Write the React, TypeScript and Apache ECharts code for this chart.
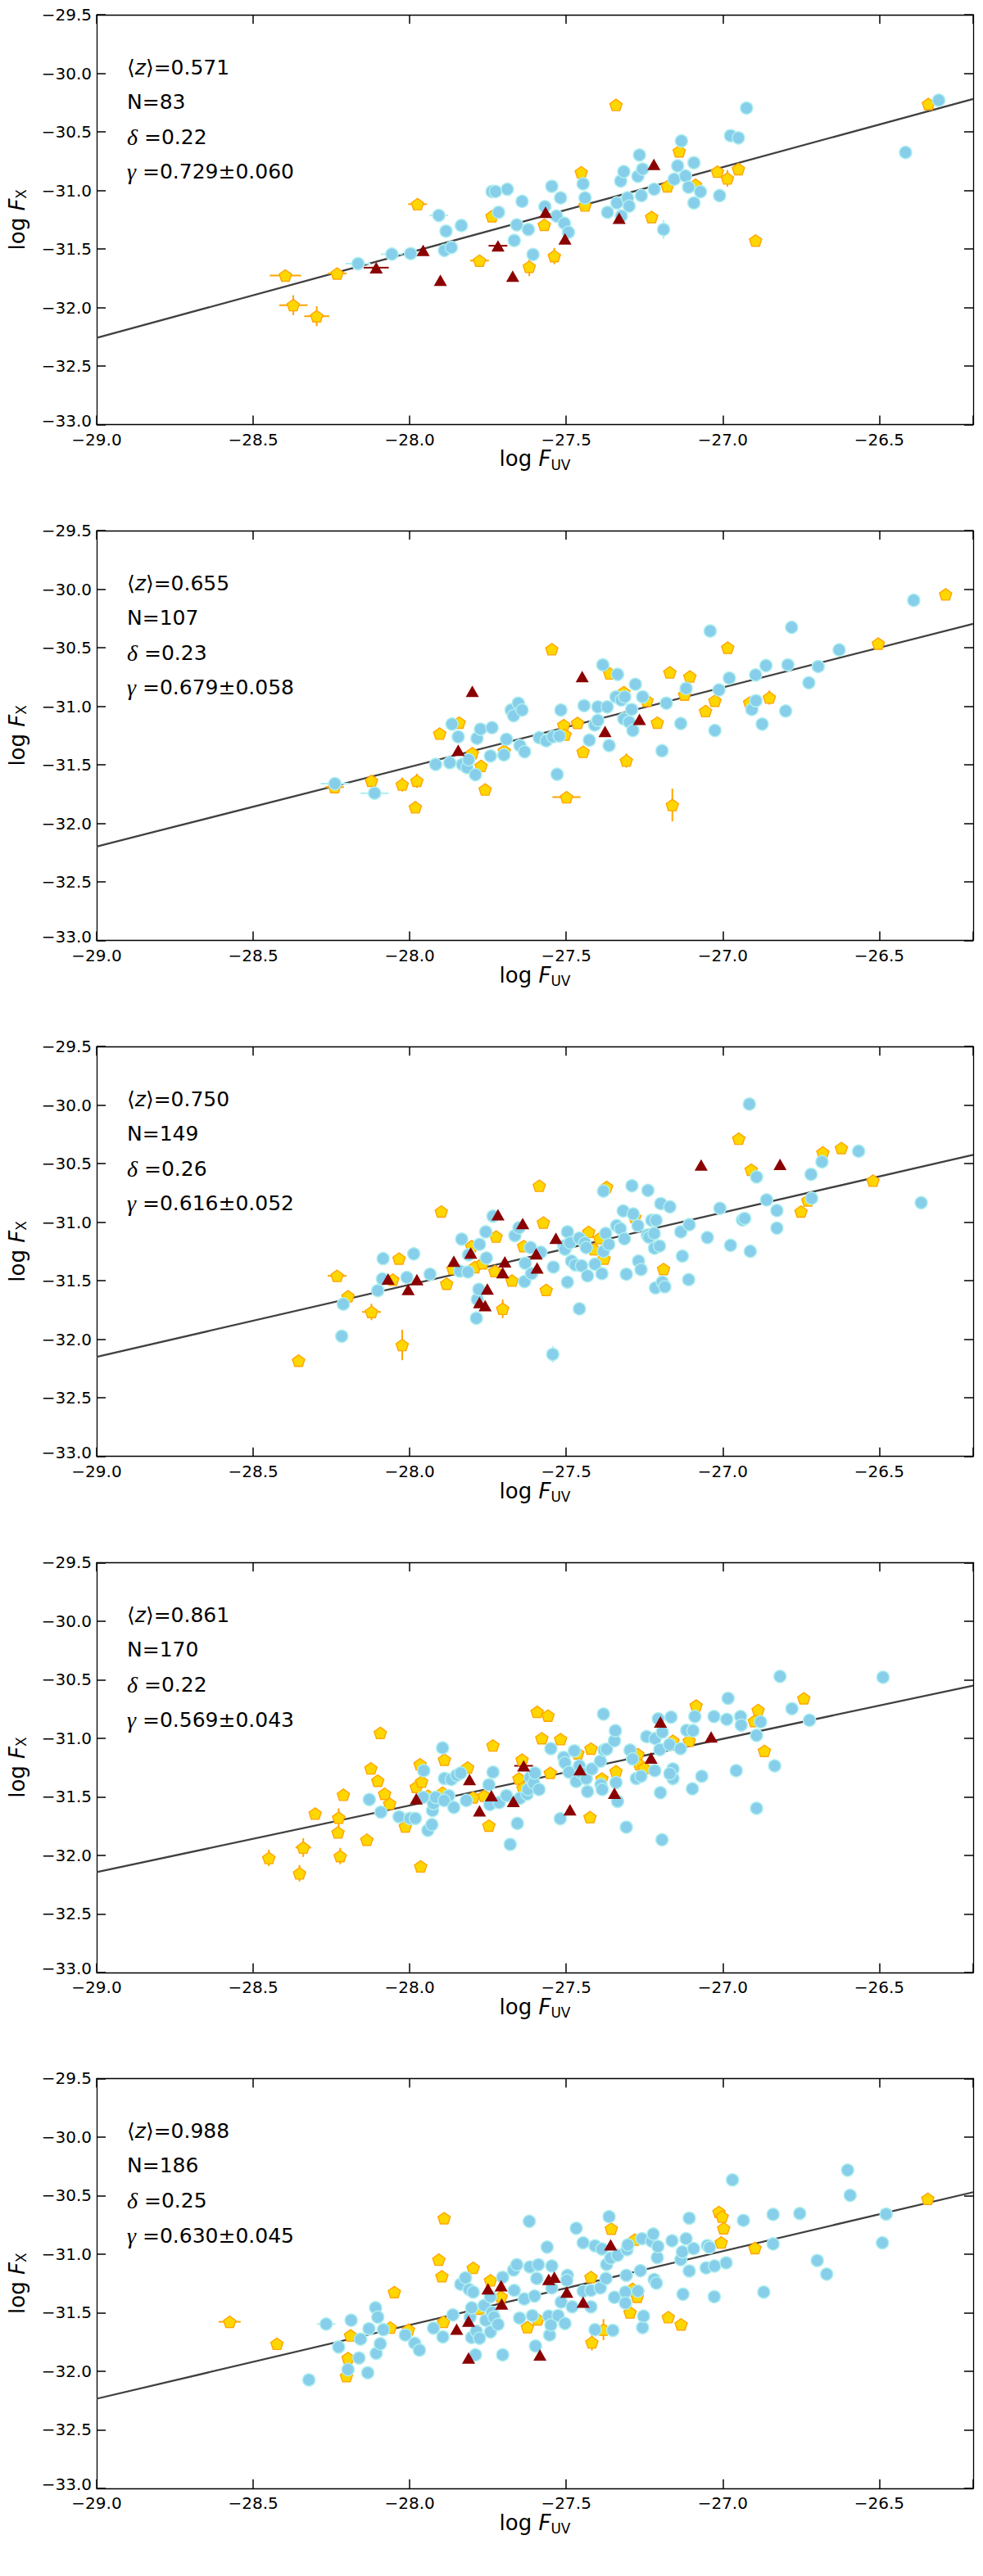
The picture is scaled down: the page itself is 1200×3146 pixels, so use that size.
import { useEffect, useRef } from 'react'
import * as echarts from 'echarts'

// panel statistics
const meanZ = ['0.571', '0.655', '0.750', '0.861', '0.988']
const counts = [83, 107, 149, 170, 186]
const deltas = ['0.22', '0.23', '0.26', '0.22', '0.25']
const gammas = ['0.729', '0.679', '0.616', '0.569', '0.630']
const gammaErrs = ['0.060', '0.058', '0.052', '0.043', '0.045']
// fit value at log F_UV = -29
const fitStart = [-32.26, -32.197, -32.149, -32.144, -32.235]

const X_MIN = -29
const X_MAX = -26.2
const Y_MIN = -33
const Y_MAX = -29.5

// panel 1
const blue1 = [[-28.165,-31.626],[-28.057,-31.545],[-27.997,-31.54],[-27.907,-31.214],[-27.884,-31.348],[-27.889,-31.513],[-27.867,-31.487],[-27.835,-31.3],[-27.737,-31.01],[-27.726,-31.01],[-27.716,-31.187],[-27.688,-30.99],[-27.641,-31.094],[-27.658,-31.294],[-27.666,-31.428],[-27.621,-31.334],[-27.606,-31.548],[-27.568,-31.139],[-27.546,-30.965],[-27.531,-31.219],[-27.518,-31.064],[-27.506,-31.281],[-27.493,-31.358],[-27.446,-30.944],[-27.44,-31.064],[-27.368,-31.187],[-27.338,-31.107],[-27.326,-30.92],[-27.316,-30.84],[-27.324,-31.219],[-27.304,-31.064],[-27.299,-31.134],[-27.271,-30.88],[-27.266,-30.698],[-27.256,-30.818],[-27.26,-31.045],[-27.219,-30.99],[-27.189,-31.334],[-27.155,-30.905],[-27.144,-30.791],[-27.132,-30.578],[-27.119,-30.877],[-27.109,-30.973],[-27.092,-30.764],[-27.092,-31.107],[-27.071,-31.011],[-27.01,-31.045],[-26.975,-30.533],[-26.95,-30.551],[-26.924,-30.297],[-26.416,-30.676],[-26.31,-30.23]]
const gold1 = [[-28.397,-31.727],[-28.372,-31.98],[-28.297,-32.075],[-28.232,-31.71],[-27.975,-31.118],[-27.777,-31.6],[-27.737,-31.22],[-27.452,-30.845],[-27.57,-31.294],[-27.618,-31.652],[-27.538,-31.561],[-27.44,-31.128],[-27.341,-30.27],[-27.227,-31.227],[-27.177,-30.965],[-27.139,-30.666],[-27.087,-30.952],[-27.017,-30.84],[-26.985,-30.898],[-26.95,-30.818],[-26.895,-31.428],[-26.343,-30.262]]
const red1 = [[-28.107,-31.66],[-27.957,-31.513],[-27.902,-31.767],[-27.718,-31.473],[-27.671,-31.733],[-27.566,-31.187],[-27.504,-31.414],[-27.331,-31.238],[-27.22,-30.778]]
const err1 = [[-28.397,-31.727,0.05,0.015,0],[-28.372,-31.98,0.045,0.085,0],[-28.297,-32.075,0.04,0.085,0],[-28.232,-31.71,0.03,0.02,0],[-27.975,-31.118,0.03,0,0],[-27.618,-31.652,0,0.08,0],[-27.538,-31.561,0,0.07,0],[-26.985,-30.898,0,0.07,0],[-27.777,-31.6,0.03,0,0],[-28.165,-31.626,0.04,0,1],[-28.057,-31.545,0.035,0,1],[-27.907,-31.214,0.03,0,1],[-27.189,-31.334,0,0.08,1],[-28.107,-31.66,0.04,0.01,2],[-27.718,-31.473,0.03,0,2]]

// panel 2
const blue2 = [[-28.239,-31.661],[-28.112,-31.742],[-27.917,-31.496],[-27.872,-31.482],[-27.865,-31.152],[-27.845,-31.26],[-27.832,-31.496],[-27.817,-31.523],[-27.812,-31.456],[-27.79,-31.584],[-27.785,-31.273],[-27.774,-31.195],[-27.742,-31.424],[-27.737,-31.182],[-27.699,-31.415],[-27.691,-31.281],[-27.676,-31.032],[-27.668,-31.08],[-27.653,-30.973],[-27.641,-31.032],[-27.648,-31.335],[-27.633,-31.388],[-27.586,-31.268],[-27.564,-31.294],[-27.543,-31.26],[-27.522,-31.254],[-27.529,-31.581],[-27.517,-31.032],[-27.443,-30.994],[-27.426,-31.289],[-27.409,-31.16],[-27.399,-31.005],[-27.399,-31.12],[-27.383,-30.646],[-27.369,-31.005],[-27.363,-31.335],[-27.341,-30.919],[-27.336,-30.727],[-27.324,-30.946],[-27.316,-31.107],[-27.313,-30.919],[-27.299,-31.134],[-27.291,-31.027],[-27.287,-31.206],[-27.279,-30.812],[-27.256,-30.919],[-27.194,-31.38],[-27.18,-30.973],[-27.134,-31.147],[-27.117,-30.847],[-27.04,-30.357],[-27.025,-31.206],[-27.012,-30.86],[-26.979,-30.759],[-26.907,-31.027],[-26.895,-30.732],[-26.894,-30.952],[-26.874,-31.152],[-26.862,-30.652],[-26.799,-31.04],[-26.792,-30.646],[-26.78,-30.325],[-26.725,-30.799],[-26.695,-30.66],[-26.628,-30.518],[-26.39,-30.095]]
const gold2 = [[-28.24,-31.69],[-28.122,-31.636],[-28.024,-31.668],[-27.977,-31.636],[-27.982,-31.862],[-27.904,-31.233],[-27.842,-31.139],[-27.8,-31.4],[-27.772,-31.509],[-27.759,-31.71],[-27.546,-30.512],[-27.698,-31.38],[-27.508,-31.16],[-27.504,-31.241],[-27.464,-31.142],[-27.446,-31.388],[-27.499,-31.776],[-27.361,-30.719],[-27.316,-30.879],[-27.308,-31.463],[-27.242,-30.952],[-27.209,-31.139],[-27.169,-30.71],[-27.161,-31.843],[-27.122,-30.9],[-27.105,-30.745],[-27.055,-31.04],[-27.025,-30.952],[-26.984,-30.499],[-26.914,-30.968],[-26.851,-30.925],[-26.503,-30.464],[-26.288,-30.044]]
const red2 = [[-27.845,-31.375],[-27.8,-30.871],[-27.449,-30.745],[-27.376,-31.214],[-27.266,-31.112]]
const err2 = [[-28.239,-31.661,0.045,0,1],[-28.112,-31.742,0.045,0.03,1],[-27.499,-31.776,0.045,0,0],[-27.161,-31.843,0,0.14,0],[-27.308,-31.463,0,0.06,0],[-28.024,-31.668,0,0.06,0],[-27.977,-31.636,0,0.06,0],[-26.851,-30.925,0,0.06,0],[-28.122,-31.636,0.02,0.03,0],[-28.24,-31.69,0.03,0,0]]

// panel 3
const blue3 = [[-28.212,-31.699],[-28.217,-31.973],[-28.102,-31.584],[-28.087,-31.484],[-28.085,-31.31],[-28.009,-31.471],[-27.987,-31.27],[-27.935,-31.444],[-27.84,-31.417],[-27.834,-31.144],[-27.814,-31.425],[-27.812,-31.278],[-27.787,-31.82],[-27.784,-31.659],[-27.779,-31.573],[-27.777,-31.189],[-27.757,-31.082],[-27.755,-31.305],[-27.734,-30.948],[-27.664,-31.114],[-27.651,-31.047],[-27.631,-31.35],[-27.633,-31.506],[-27.614,-31.216],[-27.611,-31.439],[-27.581,-31.256],[-27.541,-31.383],[-27.543,-32.128],[-27.508,-31.203],[-27.504,-31.23],[-27.496,-31.082],[-27.496,-31.511],[-27.488,-31.176],[-27.483,-31.332],[-27.471,-31.364],[-27.458,-31.136],[-27.458,-31.739],[-27.451,-31.372],[-27.441,-31.176],[-27.436,-31.216],[-27.432,-31.458],[-27.408,-31.358],[-27.386,-31.439],[-27.381,-30.734],[-27.381,-31.248],[-27.374,-31.096],[-27.364,-31.189],[-27.339,-31.029],[-27.327,-31.055],[-27.318,-30.903],[-27.314,-31.141],[-27.308,-31.444],[-27.29,-30.688],[-27.286,-30.929],[-27.271,-31.029],[-27.269,-31.332],[-27.261,-31.404],[-27.239,-30.728],[-27.241,-31.109],[-27.236,-31.128],[-27.227,-30.983],[-27.219,-31.096],[-27.218,-31.222],[-27.213,-30.983],[-27.215,-31.56],[-27.202,-31.203],[-27.198,-30.841],[-27.193,-31.511],[-27.185,-31.551],[-27.169,-30.868],[-27.134,-31.082],[-27.129,-31.289],[-27.109,-31.49],[-27.107,-31.021],[-27.049,-31.13],[-27.009,-30.881],[-26.975,-31.197],[-26.937,-30.98],[-26.93,-30.967],[-26.915,-29.991],[-26.912,-31.248],[-26.892,-30.613],[-26.86,-30.809],[-26.827,-30.9],[-26.827,-31.05],[-26.718,-30.591],[-26.716,-30.795],[-26.683,-30.484],[-26.566,-30.393],[-26.366,-30.833]]
const gold3 = [[-28.232,-31.458],[-28.197,-31.632],[-28.122,-31.766],[-28.355,-32.182],[-28.034,-31.31],[-28.024,-32.048],[-28.054,-31.49],[-27.899,-30.908],[-27.882,-31.525],[-27.862,-31.396],[-27.802,-31.203],[-27.792,-31.383],[-27.767,-31.35],[-27.724,-31.122],[-27.728,-31.417],[-27.703,-31.739],[-27.673,-31.498],[-27.636,-31.203],[-27.586,-30.688],[-27.573,-31.002],[-27.564,-31.578],[-27.428,-31.082],[-27.411,-31.23],[-27.393,-31.136],[-27.379,-31.31],[-27.371,-30.699],[-27.281,-30.956],[-27.189,-31.399],[-26.949,-30.286],[-26.909,-30.551],[-26.75,-30.908],[-26.728,-30.814],[-26.68,-30.404],[-26.621,-30.366],[-26.52,-30.645]]
const red3 = [[-28.069,-31.484],[-28.005,-31.573],[-27.977,-31.49],[-27.859,-31.332],[-27.805,-31.262],[-27.777,-31.686],[-27.759,-31.712],[-27.752,-31.57],[-27.718,-30.935],[-27.639,-31.01],[-27.696,-31.337],[-27.703,-31.431],[-27.596,-31.27],[-27.593,-31.391],[-27.533,-31.136],[-27.069,-30.511],[-26.817,-30.506]]
const err3 = [[-28.232,-31.458,0.03,0,0],[-28.197,-31.632,0.02,0.02,0],[-28.122,-31.766,0.03,0.07,0],[-28.355,-32.182,0.02,0.05,0],[-28.024,-32.048,0,0.13,0],[-27.703,-31.739,0,0.08,0],[-27.673,-31.498,0,0.05,0],[-27.379,-31.31,0,0.05,0],[-27.543,-32.128,0,0.07,1]]

// panel 4
const blue4 = [[-28.129,-31.524],[-28.092,-31.631],[-28.034,-31.671],[-27.999,-31.685],[-27.982,-31.685],[-27.955,-31.277],[-27.957,-31.505],[-27.942,-31.787],[-27.927,-31.618],[-27.924,-31.559],[-27.917,-31.505],[-27.929,-31.738],[-27.895,-31.083],[-27.889,-31.344],[-27.875,-31.491],[-27.89,-31.532],[-27.867,-31.352],[-27.859,-31.591],[-27.85,-31.317],[-27.837,-31.298],[-27.819,-31.532],[-27.747,-31.398],[-27.744,-31.567],[-27.734,-31.29],[-27.714,-31.55],[-27.691,-31.491],[-27.679,-31.907],[-27.656,-31.728],[-27.648,-31.513],[-27.625,-31.478],[-27.622,-31.438],[-27.615,-31.336],[-27.604,-31.384],[-27.6,-31.298],[-27.587,-31.438],[-27.549,-31.089],[-27.519,-31.687],[-27.508,-31.164],[-27.504,-31.21],[-27.491,-31.29],[-27.474,-31.108],[-27.468,-31.37],[-27.458,-31.236],[-27.451,-31.298],[-27.436,-31.344],[-27.432,-31.456],[-27.418,-31.263],[-27.391,-31.196],[-27.389,-31.397],[-27.385,-31.438],[-27.381,-30.794],[-27.379,-31.102],[-27.371,-31.094],[-27.346,-31.022],[-27.343,-30.936],[-27.341,-31.379],[-27.336,-31.54],[-27.308,-31.76],[-27.296,-31.102],[-27.288,-31.177],[-27.276,-31.344],[-27.261,-31.325],[-27.243,-30.987],[-27.217,-31.277],[-27.216,-31.003],[-27.206,-30.834],[-27.201,-31.097],[-27.199,-31.465],[-27.194,-31.867],[-27.193,-30.949],[-27.17,-31.054],[-27.165,-30.82],[-27.159,-31.263],[-27.159,-31.344],[-27.169,-31.303],[-27.135,-31.089],[-27.115,-30.933],[-27.097,-31.432],[-27.095,-30.936],[-27.089,-30.815],[-27.067,-31.325],[-27.028,-30.815],[-26.987,-30.839],[-26.983,-30.659],[-26.957,-31.277],[-26.943,-30.815],[-26.941,-30.888],[-26.892,-30.976],[-26.892,-31.599],[-26.879,-30.861],[-26.834,-31.236],[-26.817,-30.472],[-26.779,-30.748],[-26.723,-30.847],[-26.488,-30.48]]
const gold4 = [[-28.45,-32.023],[-28.352,-32.154],[-28.34,-31.934],[-28.302,-31.644],[-28.227,-31.679],[-28.229,-31.805],[-28.222,-32.007],[-28.212,-31.483],[-28.137,-31.867],[-28.124,-31.258],[-28.102,-31.363],[-28.094,-30.955],[-28.08,-31.475],[-28.064,-31.559],[-28.014,-31.754],[-27.979,-31.416],[-27.967,-31.223],[-27.962,-31.371],[-27.965,-32.095],[-27.942,-31.491],[-27.895,-31.465],[-27.889,-31.183],[-27.815,-31.25],[-27.797,-31.505],[-27.762,-31.491],[-27.747,-31.746],[-27.734,-31.062],[-27.651,-31.344],[-27.641,-31.183],[-27.638,-31.424],[-27.593,-30.775],[-27.578,-31.0],[-27.558,-30.807],[-27.551,-31.296],[-27.518,-31.008],[-27.463,-31.129],[-27.424,-31.674],[-27.421,-31.089],[-27.386,-31.344],[-27.341,-31.282],[-27.271,-31.137],[-27.266,-31.223],[-27.251,-31.255],[-27.159,-31.022],[-27.107,-31.022],[-27.085,-30.721],[-26.899,-30.853],[-26.887,-30.759],[-26.867,-31.108],[-26.741,-30.659]]
const red4 = [[-27.979,-31.518],[-27.809,-31.352],[-27.777,-31.62],[-27.739,-31.491],[-27.636,-31.236],[-27.669,-31.54],[-27.488,-31.612],[-27.456,-31.269],[-27.346,-31.47],[-27.229,-31.169],[-27.199,-30.861],[-27.037,-30.99]]
const err4 = [[-28.45,-32.023,0.02,0.07,0],[-28.352,-32.154,0.02,0.07,0],[-28.34,-31.934,0.025,0.08,0],[-28.227,-31.679,0.02,0.08,0],[-28.222,-32.007,0,0.07,0],[-28.137,-31.867,0.02,0.05,0],[-28.014,-31.754,0,0.05,0],[-28.064,-31.559,0,0.05,0],[-27.386,-31.344,0,0.05,0],[-27.636,-31.236,0.03,0,2],[-27.159,-31.344,0,0.06,1]]

// panel 5
const blue5 = [[-28.322,-32.074],[-28.267,-31.597],[-28.227,-31.793],[-28.197,-31.986],[-28.187,-31.565],[-28.162,-31.887],[-28.157,-31.726],[-28.134,-32.013],[-28.13,-31.637],[-28.109,-31.458],[-28.102,-31.538],[-28.107,-31.847],[-28.094,-31.766],[-28.084,-31.645],[-28.014,-31.691],[-27.984,-31.761],[-27.969,-31.82],[-27.924,-31.632],[-27.894,-31.707],[-27.862,-31.519],[-27.837,-31.257],[-27.822,-31.203],[-27.81,-31.302],[-27.807,-31.538],[-27.802,-31.458],[-27.797,-31.324],[-27.802,-31.712],[-27.79,-31.86],[-27.787,-31.659],[-27.777,-31.718],[-27.762,-31.439],[-27.757,-31.565],[-27.742,-31.664],[-27.742,-31.364],[-27.737,-31.498],[-27.731,-31.538],[-27.718,-31.6],[-27.703,-31.198],[-27.703,-31.86],[-27.668,-31.136],[-27.666,-31.31],[-27.658,-31.09],[-27.649,-31.546],[-27.634,-31.383],[-27.618,-30.72],[-27.616,-31.109],[-27.608,-31.525],[-27.601,-31.358],[-27.598,-31.785],[-27.594,-31.208],[-27.589,-31.09],[-27.561,-30.94],[-27.556,-31.53],[-27.553,-31.691],[-27.549,-31.605],[-27.546,-31.101],[-27.546,-31.289],[-27.526,-31.525],[-27.516,-31.409],[-27.504,-31.592],[-27.496,-31.181],[-27.498,-31.224],[-27.481,-31.45],[-27.468,-30.779],[-27.446,-30.903],[-27.446,-31.316],[-27.421,-31.45],[-27.421,-31.31],[-27.408,-31.645],[-27.408,-30.929],[-27.391,-31.289],[-27.386,-30.956],[-27.373,-31.208],[-27.371,-31.088],[-27.363,-30.68],[-27.358,-31.034],[-27.351,-31.651],[-27.346,-31.369],[-27.336,-31.01],[-27.311,-31.324],[-27.311,-31.417],[-27.308,-31.181],[-27.306,-30.962],[-27.303,-30.921],[-27.271,-31.316],[-27.263,-31.141],[-27.258,-30.868],[-27.256,-31.627],[-27.253,-31.53],[-27.227,-30.889],[-27.222,-30.828],[-27.219,-31.216],[-27.212,-31.248],[-27.209,-31.029],[-27.207,-30.935],[-27.162,-30.886],[-27.134,-31.047],[-27.127,-31.342],[-27.129,-30.98],[-27.117,-30.868],[-27.107,-30.693],[-27.107,-31.144],[-27.093,-30.953],[-27.053,-31.117],[-27.049,-30.927],[-27.042,-30.943],[-27.027,-31.364],[-27.026,-31.101],[-26.989,-31.074],[-26.969,-30.366],[-26.934,-30.712],[-26.869,-31.324],[-26.839,-30.661],[-26.839,-30.913],[-26.754,-30.653],[-26.698,-31.055],[-26.668,-31.171],[-26.601,-30.283],[-26.593,-30.498],[-26.49,-30.903],[-26.478,-30.658]]
const gold5 = [[-28.575,-31.578],[-28.424,-31.766],[-28.197,-31.887],[-28.202,-32.042],[-28.189,-31.694],[-28.062,-31.627],[-28.049,-31.324],[-28.004,-31.645],[-27.907,-31.047],[-27.897,-31.189],[-27.892,-31.578],[-27.89,-30.693],[-27.797,-31.117],[-27.777,-31.466],[-27.742,-31.224],[-27.708,-31.364],[-27.624,-31.624],[-27.591,-31.557],[-27.421,-31.195],[-27.418,-31.753],[-27.381,-31.645],[-27.356,-30.782],[-27.296,-31.498],[-27.281,-30.876],[-27.273,-31.364],[-27.288,-31.297],[-27.174,-31.538],[-27.133,-31.6],[-27.012,-30.64],[-27.002,-30.68],[-26.997,-30.779],[-27.005,-30.9],[-26.897,-30.948],[-26.345,-30.527]]
const red5 = [[-27.85,-31.64],[-27.812,-31.573],[-27.812,-31.887],[-27.75,-31.297],[-27.708,-31.27],[-27.706,-31.425],[-27.556,-31.216],[-27.538,-31.197],[-27.498,-31.324],[-27.446,-31.409],[-27.358,-30.921],[-27.584,-31.86]]
const err5 = [[-28.575,-31.578,0.035,0,0],[-28.424,-31.766,0.015,0,0],[-28.202,-32.042,0,0.05,0],[-27.418,-31.753,0,0.07,0],[-27.381,-31.645,0,0.09,0],[-27.296,-31.498,0,0.05,0],[-28.267,-31.597,0.03,0,1]]

const blues = [blue1, blue2, blue3, blue4, blue5]
const golds = [gold1, gold2, gold3, gold4, gold5]
const reds = [red1, red2, red3, red4, red5]
const errs = [err1, err2, err3, err4, err5]

const errColors = ['#FFA500', '#AEEEEE', '#8B0000']
const PENTAGON = 'path://M0,-10L9.51,-3.09L5.88,8.09L-5.88,8.09L-9.51,-3.09Z'
const SANS = '"DejaVu Sans", "Liberation Sans", sans-serif'
const SERIF = '"Liberation Serif", "DejaVu Serif", serif'

const GRID_LEFT = 115.6
const GRID_RIGHT = 12
const GRID_TOP = 18
const GRID_H = 500.5
const PITCH = 630.1

const fmt = (v: number) => {
  if (Math.abs(v * 2 - Math.round(v * 2)) > 1e-6) return ''
  return (v < 0 ? '\u2212' : '') + Math.abs(v).toFixed(1)
}
// lowest y label sits a little higher so it clears the first x label
const fmtY = (v: number) => (v === Y_MIN ? `{lo|${fmt(v)}}` : fmt(v))

const axisLine = { show: true, lineStyle: { color: '#000', width: 1.3 } }
const axisTick = { show: true, inside: true, length: 11, lineStyle: { color: '#000', width: 1.5 } }
const nameRich = (lh: number) => ({
  n: { fontFamily: SANS, fontSize: 26, lineHeight: lh, color: '#000' },
  f: { fontFamily: SANS, fontSize: 26, lineHeight: lh, fontStyle: 'italic', color: '#000' },
  s: { fontFamily: SANS, fontSize: 17, lineHeight: 17, verticalAlign: 'bottom', color: '#000' }
})

const App = () => {
  const chartRef = useRef<HTMLDivElement>(null)

  useEffect(() => {
    if (!chartRef.current) return
    const chart = echarts.init(chartRef.current, null, { renderer: 'svg' })

    const grid: any[] = []
    const xAxis: any[] = []
    const yAxis: any[] = []
    const series: any[] = []
    const graphic: any[] = []

    for (let i = 0; i < 5; i++) {
      const top = GRID_TOP + i * PITCH
      grid.push({ left: GRID_LEFT, right: GRID_RIGHT, top, height: GRID_H })
      const xBase = {
        type: 'value', gridIndex: i, min: X_MIN, max: X_MAX, interval: 0.5,
        axisLine, axisTick, splitLine: { show: false }
      }
      const yBase = {
        type: 'value', gridIndex: i, min: Y_MIN, max: Y_MAX, interval: 0.5,
        axisLine, axisTick, splitLine: { show: false }
      }
      xAxis.push({
        ...xBase, position: 'bottom',
        axisLabel: { formatter: fmt, fontFamily: SANS, fontSize: 20, lineHeight: 20, color: '#000', margin: 8 },
        name: '{n|log }{f|F}{s|UV}', nameLocation: 'middle', nameGap: 23,
        nameTextStyle: { rich: nameRich(32) }
      })
      xAxis.push({ ...xBase, position: 'top', axisLabel: { show: false } })
      yAxis.push({
        ...yBase, position: 'left',
        axisLabel: {
          formatter: fmtY, fontFamily: SANS, fontSize: 20, color: '#000', margin: 6,
          rich: { lo: { fontFamily: SANS, fontSize: 20, color: '#000', padding: [0, 0, 10, 0] } }
        },
        name: '{n|log }{f|F}{s|X}', nameLocation: 'middle', nameGap: 84, nameRotate: 90,
        nameTextStyle: { rich: nameRich(26) }
      })
      yAxis.push({ ...yBase, position: 'right', axisLabel: { show: false } })

      const xi = i * 2
      const g = Number(gammas[i])
      series.push({
        type: 'line', xAxisIndex: xi, yAxisIndex: xi, z: 1,
        data: [[X_MIN, fitStart[i]], [X_MAX, fitStart[i] + g * (X_MAX - X_MIN)]],
        symbol: 'none', lineStyle: { color: '#404040', width: 2.3 }, silent: true
      })
      series.push({
        type: 'custom', xAxisIndex: xi, yAxisIndex: xi, z: 2,
        data: errs[i],
        renderItem: (_p: any, api: any) => {
          const x = api.value(0), y = api.value(1), ex = api.value(2), ey = api.value(3)
          const color = errColors[api.value(4)]
          const children: any[] = []
          if (ex > 0) {
            const a = api.coord([x - ex, y]), b = api.coord([x + ex, y])
            children.push({ type: 'line', shape: { x1: a[0], y1: a[1], x2: b[0], y2: b[1] }, style: { stroke: color, lineWidth: 2 } })
          }
          if (ey > 0) {
            const a = api.coord([x, y - ey]), b = api.coord([x, y + ey])
            children.push({ type: 'line', shape: { x1: a[0], y1: a[1], x2: b[0], y2: b[1] }, style: { stroke: color, lineWidth: 2 } })
          }
          return { type: 'group', children }
        }
      })
      series.push({
        type: 'scatter', xAxisIndex: xi, yAxisIndex: xi, z: 3, data: golds[i],
        symbol: PENTAGON, symbolSize: [15, 14],
        itemStyle: { color: '#FFD700', borderColor: '#FFA500', borderWidth: 1.4, opacity: 1 }
      })
      series.push({
        type: 'scatter', xAxisIndex: xi, yAxisIndex: xi, z: 4, data: blues[i],
        symbol: 'circle', symbolSize: 15,
        itemStyle: { color: '#87CEEB', borderColor: '#AEEEEE', borderWidth: 1.5, opacity: 1 }
      })
      series.push({
        type: 'scatter', xAxisIndex: xi, yAxisIndex: xi, z: 5, data: reds[i],
        symbol: 'triangle', symbolSize: [16, 14],
        itemStyle: { color: '#8B0000', opacity: 1 }
      })

      const rich = {
        a: { fontFamily: SANS, fontSize: 25, color: '#000' },
        i: { fontFamily: SANS, fontSize: 25, fontStyle: 'italic', color: '#000' },
        g: { fontFamily: SERIF, fontSize: 28, fontStyle: 'italic', color: '#000' }
      }
      const lines = [
        `{a|\u27E8}{i|z}{a|\u27E9=${meanZ[i]}}`,
        `{a|N=${counts[i]}}`,
        `{g|\u03B4}{a| =${deltas[i]}}`,
        `{g|\u03B3}{a| =${gammas[i]}\u00B1${gammaErrs[i]}}`
      ]
      const offs = [64.3, 106.4, 149.2, 191.7]
      lines.forEach((t, k) => {
        graphic.push({
          type: 'text', x: 155, y: top + offs[k], z: 10,
          style: { text: t, rich, verticalAlign: 'middle', align: 'left' }
        })
      })
    }

    chart.setOption({
      animation: false,
      backgroundColor: '#fff',
      grid, xAxis, yAxis, series, graphic
    })

    return () => {
      chart.dispose()
    }
  }, [])

  return (
    <div
      ref={chartRef}
      style={{ position: 'absolute', left: 0, top: 0, width: '1200px', height: '3146px' }}
    />
  )
}

export default App
